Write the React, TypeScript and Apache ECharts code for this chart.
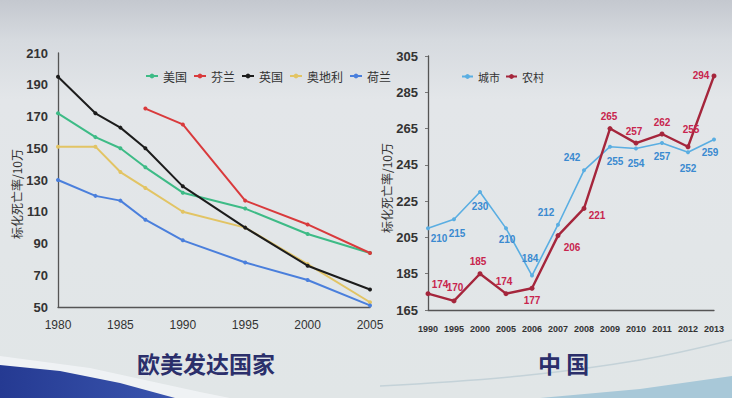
import React, { useEffect, useRef } from "react";
import * as echarts from "echarts";

// ---- Left chart: developed countries ----
const euYears = [1980, 1983, 1985, 1987, 1990, 1995, 2000, 2005];
const usa = [172, 157, 150, 138, 122, 112, 96, 84];
const finland = [null, null, null, 175, 165, 117, 102, 84];
const uk = [195, 172, 163, 150, 126, 100, 76, 61];
const austria = [151, 151, 135, 125, 110, 100, 77, 53];
const netherlands = [130, 120, 117, 105, 92, 78, 67, 51];
const euNames = ["美国", "芬兰", "英国", "奥地利", "荷兰"];

// ---- Right chart: China ----
const chinaYears = ["1990", "1995", "2000", "2005", "2006", "2007", "2008", "2009", "2010", "2011", "2012", "2013"];
const urban = [210, 215, 230, 210, 184, 212, 242, 255, 254, 257, 252, 259];
const rural = [174, 170, 185, 174, 177, 206, 221, 265, 257, 262, 255, 294];
const chinaNames = ["城市", "农村"];

// label offsets (styling only)
const urbanLabelOffset = [[11, 10], [3, 14], [0, 14], [1, 11], [-2, -17], [-12, -12], [-12, -13], [5, 15], [0, 15], [0, 13], [0, 16], [-4, 13]];
const ruralLabelOffset = [[12, -9], [1, -13], [-2, -12], [-2, -12], [0, 12], [14, 12], [13, 7], [-1, -12], [-2, -12], [0, -12], [3, -17], [-13, 0]];

const axisText = "#333";
const narrow = "'Liberation Sans Narrow', 'Liberation Sans', Arial, sans-serif";
const cjk = "'Noto Sans CJK SC', 'Noto Sans', sans-serif";

export default function App() {
  const ref = useRef<HTMLDivElement>(null);
  useEffect(() => {
    if (!ref.current) return;
    const chart = echarts.init(ref.current, null, { renderer: "svg" });
    const pair = (arr: (number | null)[]) => euYears.map((y, i) => [y, arr[i]]);
    const euColors = ["#3dbb86", "#d93a3c", "#1c1c1c", "#e2c464", "#4a7fdc"];
    const euData = [usa, finland, uk, austria, netherlands];

    const euSeries = euNames.map((n, k) => ({
      name: n,
      type: "line",
      xAxisIndex: 0,
      yAxisIndex: 0,
      data: pair(euData[k]).filter((d) => d[1] !== null),
      symbol: "circle",
      symbolSize: 4,
      lineStyle: { width: 2, color: euColors[k] },
      itemStyle: { color: euColors[k] },
      z: k === 2 ? 3 : 2,
    }));

    const chinaSeries = [
      {
        name: chinaNames[0],
        type: "line",
        xAxisIndex: 1,
        yAxisIndex: 1,
        data: urban.map((v, i) => ({ value: v, label: { offset: urbanLabelOffset[i] } })),
        symbol: "circle",
        symbolSize: 4,
        lineStyle: { width: 1.6, color: "#5aaee2" },
        itemStyle: { color: "#5aaee2" },
        label: {
          show: true,
          position: "inside",
          color: "#3a8ad0",
          fontSize: 10,
          fontWeight: "bold",
          fontFamily: narrow,
        },
      },
      {
        name: chinaNames[1],
        type: "line",
        xAxisIndex: 1,
        yAxisIndex: 1,
        data: rural.map((v, i) => ({ value: v, label: { offset: ruralLabelOffset[i] } })),
        symbol: "circle",
        symbolSize: 5,
        lineStyle: { width: 2.4, color: "#a5263c" },
        itemStyle: { color: "#a5263c" },
        label: {
          show: true,
          position: "inside",
          color: "#c8254e",
          fontSize: 10,
          fontWeight: "bold",
          fontFamily: narrow,
        },
      },
    ];

    const yName = "标化死亡率/10万";
    const yLabel = { color: axisText, fontSize: 13, fontWeight: "bold", fontFamily: narrow, margin: 10 };
    const axisLine = { show: true, lineStyle: { color: "#555", width: 1.3 } };

    chart.setOption({
      animation: false,
      backgroundColor: new echarts.graphic.LinearGradient(0, 0, 0, 1, [
        { offset: 0, color: "#c4c8cf" },
        { offset: 0.1, color: "#d6dadf" },
        { offset: 0.25, color: "#e3e6e9" },
        { offset: 1, color: "#e1e6e7" },
      ]),
      grid: [
        { left: 58, width: 312, top: 53, height: 254 },
        { left: 428, width: 286, top: 56, height: 254 },
      ],
      legend: [
        {
          data: euNames,
          left: 140,
          top: 65,
          itemWidth: 12,
          itemHeight: 6,
          itemGap: 6,
          textStyle: { fontSize: 12, color: axisText, fontFamily: cjk },
        },
        {
          data: chinaNames,
          left: 456,
          top: 66,
          itemWidth: 11,
          itemHeight: 6,
          itemGap: 5,
          textStyle: { fontSize: 11, color: axisText, fontFamily: cjk },
        },
      ],
      xAxis: [
        {
          type: "value",
          gridIndex: 0,
          min: 1980,
          max: 2005,
          interval: 5,
          axisLine,
          axisTick: { show: false },
          splitLine: { show: false },
          axisLabel: {
            color: axisText,
            fontSize: 12,
            fontFamily: narrow,
            margin: 12,
            formatter: (v: number) => String(v),
          },
        },
        {
          type: "category",
          gridIndex: 1,
          data: chinaYears,
          boundaryGap: false,
          axisLine,
          axisTick: { show: false },
          splitLine: { show: false },
          axisLabel: {
            color: axisText,
            fontSize: 9,
            fontWeight: "bold",
            fontFamily: narrow,
            margin: 14,
            interval: 0,
          },
        },
      ],
      yAxis: [
        {
          type: "value",
          gridIndex: 0,
          min: 50,
          max: 210,
          interval: 20,
          axisLine,
          axisTick: { show: false },
          splitLine: { show: false },
          axisLabel: yLabel,
          name: yName,
          nameLocation: "middle",
          nameRotate: 90,
          nameGap: 36,
          nameTextStyle: { fontSize: 12, color: axisText, fontFamily: cjk, padding: [0, 28, 0, 0] },
        },
        {
          type: "value",
          gridIndex: 1,
          min: 165,
          max: 305,
          interval: 20,
          axisLine,
          axisTick: { show: true, length: 3, inside: false, lineStyle: { color: "#777" } },
          splitLine: { show: false },
          axisLabel: yLabel,
          name: yName,
          nameLocation: "middle",
          nameRotate: 90,
          nameGap: 34,
          nameTextStyle: { fontSize: 12, color: axisText, fontFamily: cjk, padding: [0, 10, 0, 0] },
        },
      ],
      graphic: [
        {
          type: "polygon",
          z: -1,
          shape: { points: [[0, 356], [90, 368], [200, 392], [230, 398], [0, 398]] },
          style: { fill: "#f3f5f7", opacity: 0.8 },
        },
        {
          type: "polygon",
          z: -1,
          shape: { points: [[0, 365], [60, 371], [120, 383], [175, 398], [0, 398]] },
          style: {
            fill: new echarts.graphic.LinearGradient(0, 0, 1, 0, [
              { offset: 0, color: "#253a92" },
              { offset: 1, color: "#3a55ae" },
            ]),
          },
        },
        {
          type: "polygon",
          z: -1,
          shape: { points: [[540, 398], [640, 389], [732, 376], [732, 398]] },
          style: { fill: "#a8c8d8" },
        },
        {
          type: "polyline",
          z: -1,
          shape: { points: [[380, 386], [520, 376], [640, 360], [732, 340]], smooth: 0.4 },
          style: { stroke: "#c4d2d8", lineWidth: 1.5, fill: null },
        },
        {
          type: "text",
          left: 137,
          top: 351,
          style: {
            text: "欧美发达国家",
            fontSize: 23,
            fontWeight: "bold",
            fontFamily: cjk,
            fill: "#2b2f6b",
          },
        },
        {
          type: "text",
          left: 538,
          top: 351,
          style: {
            text: "中 国",
            fontSize: 23,
            fontWeight: "bold",
            fontFamily: cjk,
            fill: "#2b2f6b",
          },
        },
      ],
      series: [...euSeries, ...chinaSeries],
    });
    return () => chart.dispose();
  }, []);
  return <div ref={ref} style={{ position: "fixed", left: 0, top: 0, width: 732, height: 398 }} />;
}
